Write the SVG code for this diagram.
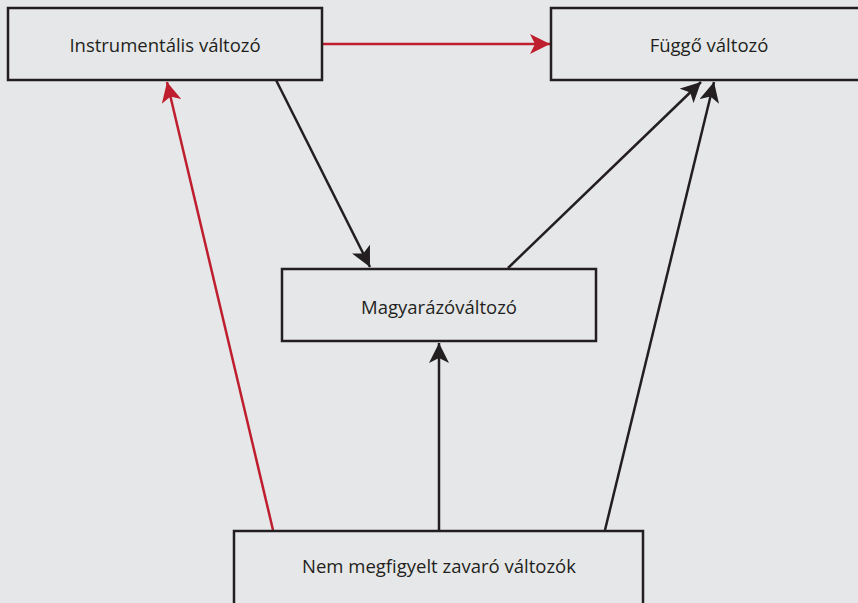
<svg xmlns="http://www.w3.org/2000/svg" width="858" height="603" viewBox="0 0 858 603">
<defs>
<style>
.box{fill:#e6e7e8;stroke:#231f20;stroke-width:2.5}
.lbl{font-family:"Open Sans","Liberation Sans",sans-serif;font-size:18.5px;fill:#231f20;text-anchor:middle}
.blk{stroke:#231f20;stroke-width:2.5;fill:none}
.red{stroke:#be1e2d;stroke-width:2.5;fill:none}
</style>
<marker id="ab" viewBox="0 0 10 10" refX="10" refY="5" markerWidth="8" markerHeight="8" markerUnits="strokeWidth" orient="auto"><path d="M0,0 L10,5 L0,10 L2.5,5 Z" fill="#231f20"/></marker>
<marker id="ar" viewBox="0 0 10 10" refX="10" refY="5" markerWidth="8" markerHeight="8" markerUnits="strokeWidth" orient="auto"><path d="M0,0 L10,5 L0,10 L2.5,5 Z" fill="#be1e2d"/></marker>
</defs>
<rect width="858" height="603" fill="#e6e7e8"/>
<g id="connectors">
<line class="red" x1="323" y1="44" x2="550" y2="44" marker-end="url(#ar)"/>
<line class="red" x1="273" y1="530" x2="167" y2="82" marker-end="url(#ar)"/>
<line class="blk" x1="276" y1="80" x2="370" y2="267" marker-end="url(#ab)"/>
<line class="blk" x1="508" y1="268" x2="701" y2="82" marker-end="url(#ab)"/>
<line class="blk" x1="605" y1="530" x2="714" y2="82" marker-end="url(#ab)"/>
<line class="blk" x1="439" y1="530" x2="439" y2="343" marker-end="url(#ab)"/>
</g>
<g id="instrumentalis">
<rect class="box" x="8" y="8" width="314" height="72"/>
<text class="lbl" x="165" y="52">Instrumentális változó</text>
</g>
<g id="fuggo">
<rect class="box" x="551" y="8" width="317" height="72"/>
<text class="lbl" x="709" y="52">Függő változó</text>
</g>
<g id="magyarazo">
<rect class="box" x="282" y="269" width="314" height="72"/>
<text class="lbl" x="439" y="314">Magyarázóváltozó</text>
</g>
<g id="zavaro">
<rect class="box" x="234" y="531" width="409" height="82"/>
<text class="lbl" x="439" y="573">Nem megfigyelt zavaró változók</text>
</g>
</svg>
